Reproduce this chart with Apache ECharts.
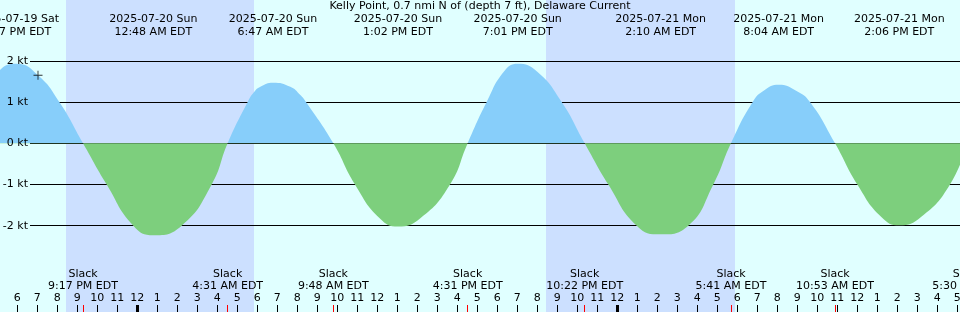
<!DOCTYPE html>
<html><head><meta charset="utf-8">
<script src="https://cdn.jsdelivr.net/npm/echarts@6/dist/echarts.min.js"></script>
<style>html,body{margin:0;padding:0;background:#e0ffff}#c{width:960px;height:312px}</style>
</head><body><div id="c"></div>
<script>
// ---------------- data ----------------
const chartTitle = 'Kelly Point, 0.7 nmi N of (depth 7 ft), Delaware Current';
const axisStart = '2025-07-19T17:08';
const axisEnd = '2025-07-21T17:08';
const curveTimes = [
  '2025-07-19T15:23','2025-07-19T15:56','2025-07-19T17:08','2025-07-19T17:57','2025-07-19T19:02',
  '2025-07-19T20:06','2025-07-19T21:17','2025-07-19T22:28','2025-07-19T23:48','2025-07-20T00:48',
  '2025-07-20T02:13','2025-07-20T03:43','2025-07-20T04:31','2025-07-20T05:31','2025-07-20T05:49',
  '2025-07-20T06:09','2025-07-20T06:47','2025-07-20T07:39','2025-07-20T08:09','2025-07-20T08:26',
  '2025-07-20T09:48','2025-07-20T10:53',
  '2025-07-20T12:07','2025-07-20T13:02','2025-07-20T14:09','2025-07-20T15:38','2025-07-20T16:31',
  '2025-07-20T17:28','2025-07-20T18:20','2025-07-20T19:01','2025-07-20T19:59','2025-07-20T21:13',
  '2025-07-20T22:22','2025-07-20T23:33','2025-07-21T00:58','2025-07-21T02:10','2025-07-21T03:33',
  '2025-07-21T04:48','2025-07-21T05:41','2025-07-21T06:46','2025-07-21T07:20','2025-07-21T08:04',
  '2025-07-21T08:55','2025-07-21T09:38','2025-07-21T10:53','2025-07-21T12:00','2025-07-21T13:12',
  '2025-07-21T14:06','2025-07-21T15:11','2025-07-21T16:38','2025-07-21T17:30'
];
const curveValues = [
  0, 1.0, 1.78, 1.93, 1.65,
  1.0, 0, -1.0, -2.0, -2.23,
  -2.0, -1.0, 0, 1.0, 1.23,
  1.37, 1.47, 1.37, 1.17, 1.0,
  0, -1.0,
  -1.82, -2.02, -1.82, -1.0, 0,
  1.0, 1.74, 1.93, 1.74, 1.0,
  0, -1.0, -2.0, -2.21, -2.0,
  -1.0, 0, 1.0, 1.28, 1.42,
  1.28, 1.0, 0, -1.0, -1.79,
  -1.99, -1.79, -1.0, 0
];
const extremeTimes = ['2025-07-19T17:57','2025-07-20T00:48','2025-07-20T06:47','2025-07-20T13:02',
  '2025-07-20T19:01','2025-07-21T02:10','2025-07-21T08:04','2025-07-21T14:06'];
const slackTimes = ['2025-07-19T15:23','2025-07-19T21:17','2025-07-20T04:31','2025-07-20T09:48',
  '2025-07-20T16:31','2025-07-20T22:22','2025-07-21T05:41','2025-07-21T10:53','2025-07-21T17:30'];
const nightStarts = ['2025-07-19T20:26','2025-07-20T20:26'];
const nightEnds = ['2025-07-20T05:50','2025-07-21T05:53'];
const yTickValues = [-2, -1, 0, 1, 2];
const markerTime = '2025-07-19T19:02';
const markerValue = 1.65;

// ---------------- styling / layout ----------------
const FONT = 'DejaVu Sans';
const BG = '#e0ffff', NIGHT = '#cce0ff', FLOOD = '#87cefa', EBB = '#7dcf7d';
const W = 960, H = 312;
const Y_MIN = -4.095, Y_MAX = 3.478;
const GUTTER = 30;      // px reserved for y labels
const PAD_PX = 120;     // label axes extend beyond the view

const ms = s => new Date(s).getTime();
const HOUR = 3600000;
const T0 = ms(axisStart), T1 = ms(axisEnd);
const pxMs = (T1 - T0) / W;
const PAD = PAD_PX * pxMs;

const DAYS = ['Sun','Mon','Tue','Wed','Thu','Fri','Sat'];
const p2 = n => String(n).padStart(2, '0');
function fmtTime(v) {
  const d = new Date(v); const h = d.getHours();
  const h12 = h % 12 === 0 ? 12 : h % 12;
  return h12 + ':' + p2(d.getMinutes()) + ' ' + (h < 12 ? 'AM' : 'PM') + ' EDT';
}
function fmtDate(v) {
  const d = new Date(v);
  return d.getFullYear() + '-' + p2(d.getMonth() + 1) + '-' + p2(d.getDate()) + ' ' + DAYS[d.getDay()];
}

const hourTicks = [];
{
  const d = new Date(T0 - PAD); d.setMinutes(0, 0, 0);
  let t = d.getTime(); if (t < T0 - PAD) t += HOUR;
  for (; t <= T1 + PAD; t += HOUR) hourTicks.push(t);
}
const midnightTicks = hourTicks.filter(t => new Date(t).getHours() === 0);

const txt = {fontFamily: FONT, fontSize: 11, color: '#000'};
const labelAxis = (extra) => Object.assign({
  gridIndex: 2, type: 'value', min: T0 - PAD, max: T1 + PAD, position: 'bottom', z: 4,
  axisLine: {show: false, onZero: false}, splitLine: {show: false}
}, extra);

const zeroFrac = Y_MAX / (Y_MAX - Y_MIN);
const areaFill = {
  type: 'linear', x: 0, y: 0, x2: 0, y2: H, global: true,
  colorStops: [
    {offset: 0, color: FLOOD}, {offset: zeroFrac, color: FLOOD},
    {offset: zeroFrac, color: EBB}, {offset: 1, color: EBB}
  ]
};

const option = {
  animation: false,
  backgroundColor: BG,
  title: {
    text: chartTitle, left: 'center', top: 0, padding: [1, 0, 0, 0],
    textStyle: Object.assign({fontWeight: 'normal'}, txt)
  },
  grid: [
    {left: 0, right: 0, top: 0, bottom: 0, outerBoundsMode: 'none'},
    {left: GUTTER, right: 0, top: 0, bottom: 0, outerBoundsMode: 'none'},
    {left: -PAD_PX, right: -PAD_PX, top: 0, bottom: 0, outerBoundsMode: 'none'}
  ],
  xAxis: [
    {gridIndex: 0, type: 'value', min: T0, max: T1, show: false},
    {gridIndex: 1, type: 'value', min: T0 + GUTTER * pxMs, max: T1, show: false},
    labelAxis({
      axisTick: {show: true, customValues: hourTicks, inside: true, length: 7, lineStyle: {color: '#000', width: 1}},
      axisLabel: Object.assign({customValues: hourTicks, inside: true, margin: 8, lineHeight: 12,
        formatter: v => { const h = new Date(v).getHours() % 12; return String(h === 0 ? 12 : h); }}, txt)
    }),
    labelAxis({
      axisTick: {show: true, customValues: midnightTicks, inside: true, length: 7, lineStyle: {color: '#000', width: 3}},
      axisLabel: {show: false}
    }),
    labelAxis({
      z: 5,
      axisTick: {show: true, customValues: slackTimes.map(ms), inside: true, length: 7, lineStyle: {color: '#ff0000', width: 1}},
      axisLabel: Object.assign({customValues: slackTimes.map(ms), inside: true, margin: 20, lineHeight: 12,
        formatter: v => 'Slack\n' + fmtTime(v)}, txt)
    }),
    labelAxis({
      position: 'top', axisTick: {show: false},
      axisLabel: Object.assign({customValues: extremeTimes.map(ms), inside: true, margin: 13, lineHeight: 13,
        formatter: v => fmtDate(v) + '\n' + fmtTime(v)}, txt)
    })
  ],
  yAxis: [
    {gridIndex: 0, type: 'value', min: Y_MIN, max: Y_MAX, show: false},
    { // grid lines (under the filled curve)
      gridIndex: 1, type: 'value', min: Y_MIN, max: Y_MAX, z: 2,
      axisLine: {show: false},
      axisTick: {show: false, customValues: yTickValues},
      axisLabel: {show: false},
      splitLine: {show: true, lineStyle: {color: '#000', width: 1}}
    },
    {gridIndex: 2, type: 'value', min: Y_MIN, max: Y_MAX, show: false},
    { // labels (over the filled curve)
      gridIndex: 1, type: 'value', min: Y_MIN, max: Y_MAX, z: 6, position: 'left',
      axisLine: {show: false, onZero: false},
      axisTick: {show: false},
      axisLabel: Object.assign({customValues: yTickValues, margin: 2, formatter: v => v + ' kt'}, txt),
      splitLine: {show: false}
    }
  ],
  series: [
    {
      type: 'line', xAxisIndex: 0, yAxisIndex: 0, z: 3,
      data: curveTimes.map((t, i) => [ms(t), curveValues[i]]),
      smooth: 0.5, showSymbol: false, symbol: 'none',
      lineStyle: {width: 0},
      areaStyle: {opacity: 1, color: areaFill},
      markArea: {
        z: 1, silent: true, itemStyle: {color: NIGHT},
        data: nightStarts.map((s, i) => [{xAxis: ms(s)}, {xAxis: ms(nightEnds[i])}])
      }
    },
    {
      type: 'scatter', xAxisIndex: 0, yAxisIndex: 0, z: 5,
      data: [[ms(markerTime), markerValue]],
      symbol: 'path://M4.5,0H5.5V10H4.5ZM0,4.5H10V5.5H0Z', symbolSize: 9,
      itemStyle: {color: '#000'}
    }
  ]
};
const chart = echarts.init(document.getElementById('c'), null, {renderer: 'canvas'});
chart.setOption(option);
</script>
</body></html>
